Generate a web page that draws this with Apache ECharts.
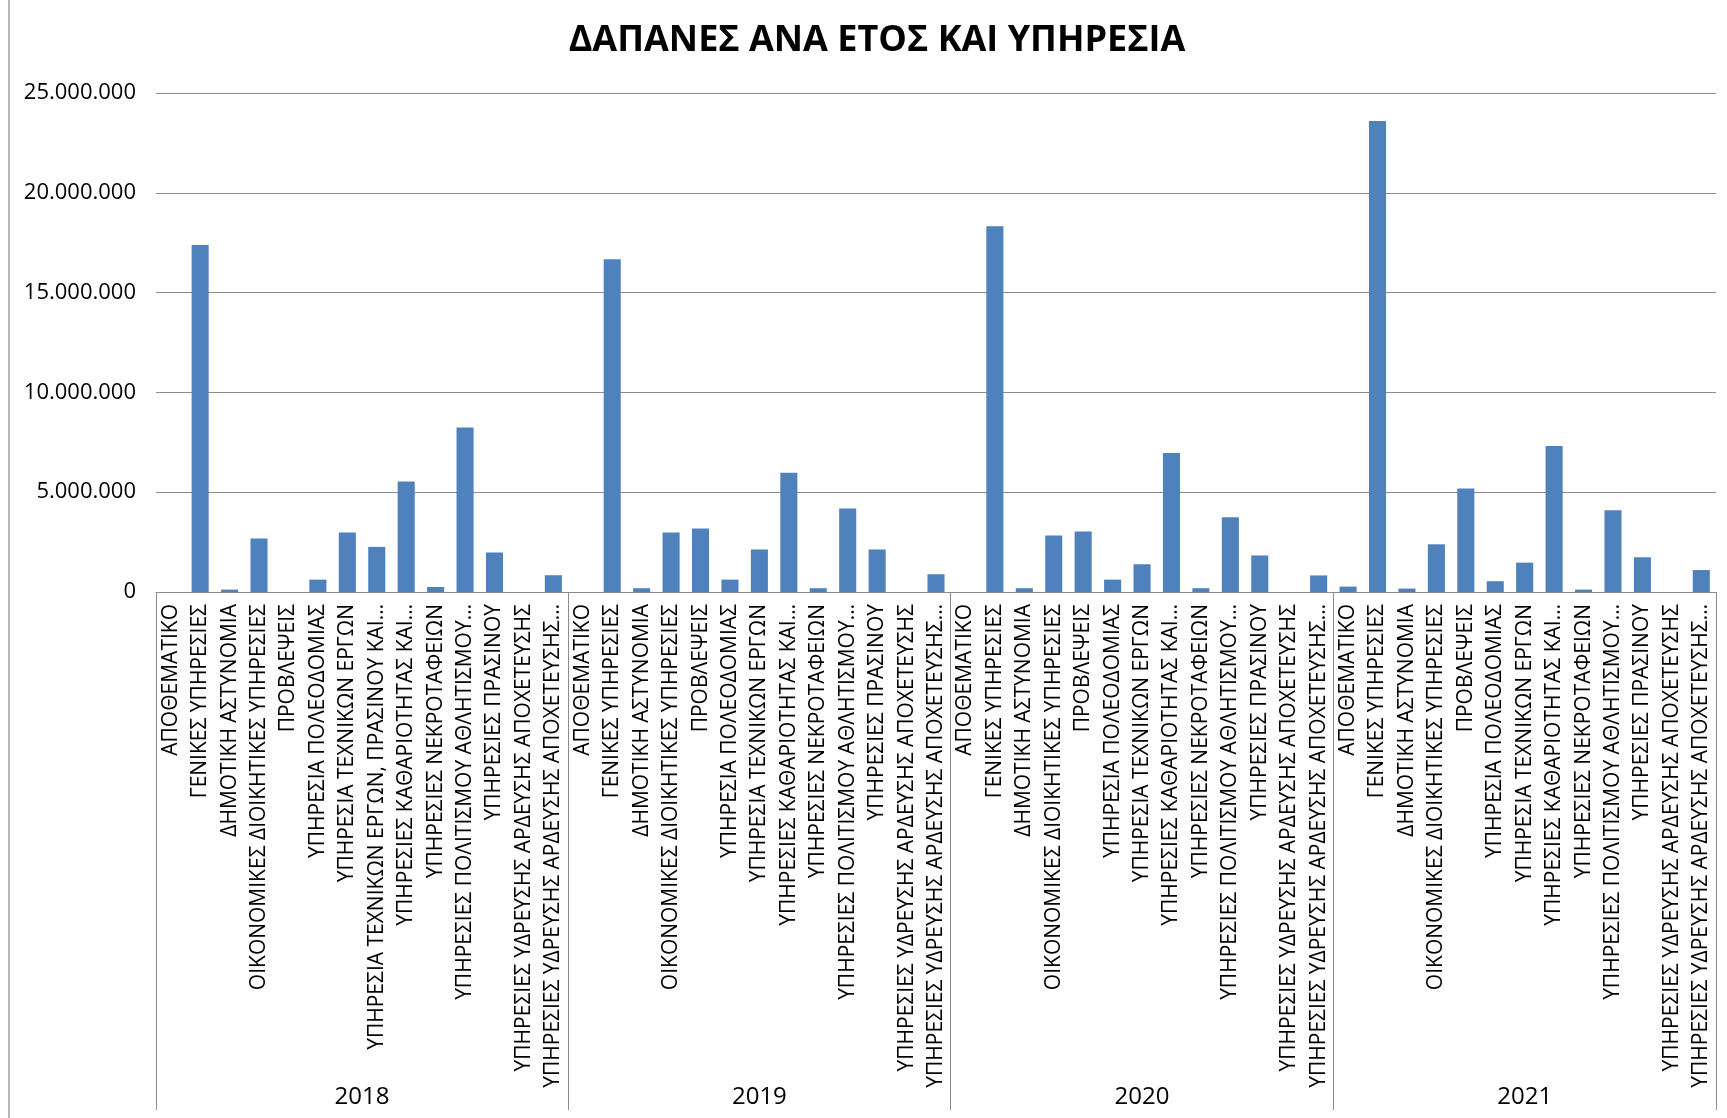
<!DOCTYPE html>
<html>
<head>
<meta charset="utf-8">
<title>ΔΑΠΑΝΕΣ ΑΝΑ ΕΤΟΣ ΚΑΙ ΥΠΗΡΕΣΙΑ</title>
<script src="https://cdn.jsdelivr.net/npm/echarts@6/dist/echarts.min.js"></script>
<style>
  html, body { margin: 0; padding: 0; background: #ffffff; }
  #chart { width: 1727px; height: 1118px; }
</style>
</head>
<body>
<div id="chart"></div>
<script>
// Years (outer level of the category axis)
const years = ['2018', '2019', '2020', '2021'];

// Services per year (inner level of the category axis)
const services2018 = [
  'ΑΠΟΘΕΜΑΤΙΚΟ',
  'ΓΕΝΙΚΕΣ ΥΠΗΡΕΣΙΕΣ',
  'ΔΗΜΟΤΙΚΗ ΑΣΤΥΝΟΜΙΑ',
  'ΟΙΚΟΝΟΜΙΚΕΣ ΔΙΟΙΚΗΤΙΚΕΣ ΥΠΗΡΕΣΙΕΣ',
  'ΠΡΟΒΛΕΨΕΙΣ',
  'ΥΠΗΡΕΣΙΑ ΠΟΛΕΟΔΟΜΙΑΣ',
  'ΥΠΗΡΕΣΙΑ ΤΕΧΝΙΚΩΝ ΕΡΓΩΝ',
  'ΥΠΗΡΕΣΙΑ ΤΕΧΝΙΚΩΝ ΕΡΓΩΝ, ΠΡΑΣΙΝΟΥ ΚΑΙ…',
  'ΥΠΗΡΕΣΙΕΣ ΚΑΘΑΡΙΟΤΗΤΑΣ ΚΑΙ…',
  'ΥΠΗΡΕΣΙΕΣ ΝΕΚΡΟΤΑΦΕΙΩΝ',
  'ΥΠΗΡΕΣΙΕΣ ΠΟΛΙΤΙΣΜΟΥ ΑΘΛΗΤΙΣΜΟΥ…',
  'ΥΠΗΡΕΣΙΕΣ ΠΡΑΣΙΝΟΥ',
  'ΥΠΗΡΕΣΙΕΣ ΥΔΡΕΥΣΗΣ ΑΡΔΕΥΣΗΣ ΑΠΟΧΕΤΕΥΣΗΣ',
  'ΥΠΗΡΕΣΙΕΣ ΥΔΡΕΥΣΗΣ ΑΡΔΕΥΣΗΣ ΑΠΟΧΕΤΕΥΣΗΣ…'
];
const services2019 = [
  'ΑΠΟΘΕΜΑΤΙΚΟ',
  'ΓΕΝΙΚΕΣ ΥΠΗΡΕΣΙΕΣ',
  'ΔΗΜΟΤΙΚΗ ΑΣΤΥΝΟΜΙΑ',
  'ΟΙΚΟΝΟΜΙΚΕΣ ΔΙΟΙΚΗΤΙΚΕΣ ΥΠΗΡΕΣΙΕΣ',
  'ΠΡΟΒΛΕΨΕΙΣ',
  'ΥΠΗΡΕΣΙΑ ΠΟΛΕΟΔΟΜΙΑΣ',
  'ΥΠΗΡΕΣΙΑ ΤΕΧΝΙΚΩΝ ΕΡΓΩΝ',
  'ΥΠΗΡΕΣΙΕΣ ΚΑΘΑΡΙΟΤΗΤΑΣ ΚΑΙ…',
  'ΥΠΗΡΕΣΙΕΣ ΝΕΚΡΟΤΑΦΕΙΩΝ',
  'ΥΠΗΡΕΣΙΕΣ ΠΟΛΙΤΙΣΜΟΥ ΑΘΛΗΤΙΣΜΟΥ…',
  'ΥΠΗΡΕΣΙΕΣ ΠΡΑΣΙΝΟΥ',
  'ΥΠΗΡΕΣΙΕΣ ΥΔΡΕΥΣΗΣ ΑΡΔΕΥΣΗΣ ΑΠΟΧΕΤΕΥΣΗΣ',
  'ΥΠΗΡΕΣΙΕΣ ΥΔΡΕΥΣΗΣ ΑΡΔΕΥΣΗΣ ΑΠΟΧΕΤΕΥΣΗΣ…'
];
const services2020 = services2019.slice();
const services2021 = services2019.slice();

// Expenditure (€) per service, one array per year
const spend2018 = [0, 17390000, 120000, 2680000, 0, 620000, 2980000, 2260000, 5540000, 250000, 8240000, 1980000, 0, 840000];
const spend2019 = [0, 16670000, 190000, 2980000, 3180000, 620000, 2130000, 5970000, 190000, 4180000, 2130000, 0, 890000];
const spend2020 = [0, 18320000, 190000, 2830000, 3030000, 620000, 1390000, 6960000, 190000, 3750000, 1830000, 0, 830000];
const spend2021 = [270000, 23600000, 170000, 2390000, 5190000, 540000, 1470000, 7320000, 120000, 4100000, 1740000, 0, 1100000];

// Value axis ticks
const yMin = 0;
const yMax = 25000000;
const yStep = 5000000;

// ---- flatten the two-level axis ----
const groups = [
  { year: years[0], services: services2018, values: spend2018 },
  { year: years[1], services: services2019, values: spend2019 },
  { year: years[2], services: services2020, values: spend2020 },
  { year: years[3], services: services2021, values: spend2021 }
];
const categories = [];
const values = [];
const boundaries = [0];
groups.forEach(g => {
  g.services.forEach((s, i) => { categories.push(s); values.push(g.values[i]); });
  boundaries.push(categories.length);
});
const yearCenters = groups.map((g, i) => (boundaries[i] + boundaries[i + 1]) / 2);

const withDots = v => String(v).replace(/\B(?=(\d{3})+(?!\d))/g, '.');

const FONT = '"Open Sans", "Noto Sans", sans-serif';
const GRID_GRAY = '#8c8c8c';

const chart = echarts.init(document.getElementById('chart'), null, { renderer: 'canvas' });

chart.setOption({
  backgroundColor: '#ffffff',
  animation: false,
  title: {
    text: 'ΔΑΠΑΝΕΣ ΑΝΑ ΕΤΟΣ ΚΑΙ ΥΠΗΡΕΣΙΑ',
    left: 872,
    textAlign: 'center',
    top: 18,
    textStyle: { fontFamily: FONT, fontSize: 36, fontWeight: 'bold', color: '#000000' }
  },
  grid: { left: 156, right: 11, top: 93, bottom: 526, containLabel: false },
  xAxis: [
    {
      type: 'category',
      position: 'bottom',
      data: categories,
      axisLine: { show: true, lineStyle: { color: GRID_GRAY, width: 1 } },
      axisTick: { show: false },
      axisLabel: {
        interval: 0,
        rotate: 90,
        margin: 12,
        fontFamily: FONT,
        fontSize: 21,
        color: '#000000'
      },
      splitLine: { show: false }
    },
    {
      type: 'value',
      position: 'bottom',
      min: 0,
      max: categories.length,
      axisLine: { show: false },
      axisTick: {
        show: true,
        customValues: boundaries,
        length: 518,
        lineStyle: { color: GRID_GRAY, width: 1 }
      },
      axisLabel: {
        customValues: yearCenters,
        margin: 493,
        fontFamily: FONT,
        fontSize: 24,
        color: '#000000',
        formatter: v => {
          const idx = yearCenters.findIndex(c => Math.abs(c - v) < 1e-6);
          return idx >= 0 ? years[idx] : '';
        }
      },
      splitLine: { show: false }
    }
  ],
  yAxis: {
    type: 'value',
    min: yMin,
    max: yMax,
    interval: yStep,
    axisLine: { show: false },
    axisTick: { show: false },
    axisLabel: {
      margin: 20,
      fontFamily: FONT,
      fontSize: 22,
      color: '#000000',
      formatter: v => withDots(v)
    },
    splitLine: { show: true, lineStyle: { color: GRID_GRAY, width: 1 } }
  },
  series: [
    {
      type: 'bar',
      xAxisIndex: 0,
      data: values,
      barCategoryGap: '42%',
      itemStyle: { color: '#4f81bd' }
    }
  ],
  graphic: [
    {
      type: 'line',
      shape: { x1: 9, y1: 0, x2: 9, y2: 1118 },
      style: { stroke: '#a0a0a0', lineWidth: 1.5 },
      silent: true
    }
  ]
});
</script>
</body>
</html>
